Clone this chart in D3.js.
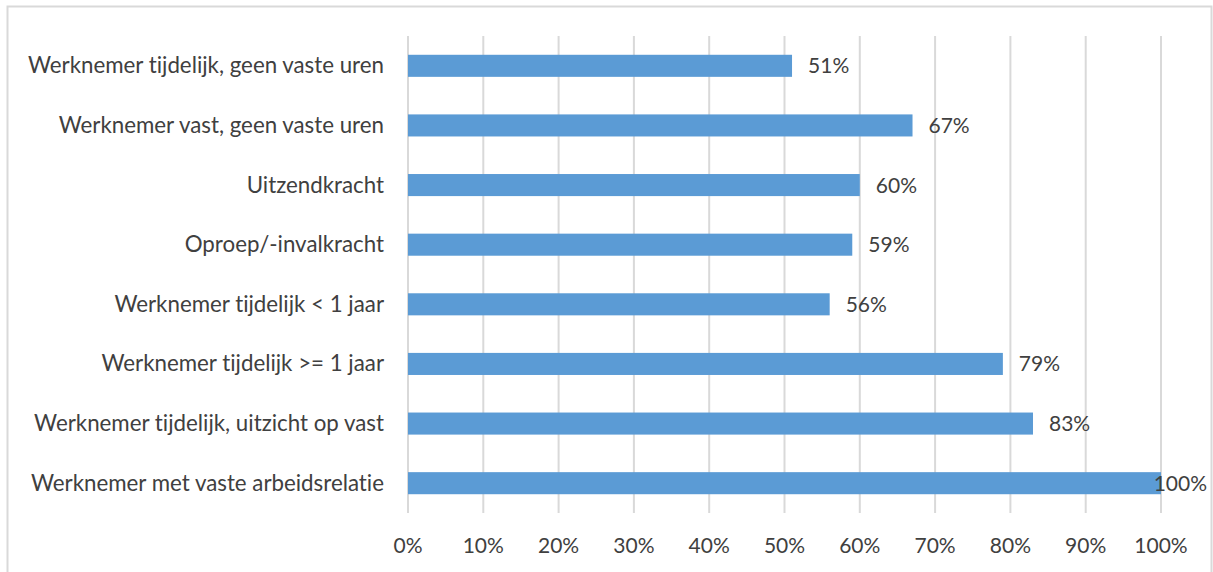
<!DOCTYPE html>
<html><head><meta charset="utf-8">
<script src="https://cdn.jsdelivr.net/npm/d3@7"></script>
<style>
body{margin:0;background:#fff;}
text{font-family:Lato, "Open Sans", sans-serif;fill:#404040;font-variant-ligatures:none;font-feature-settings:"liga" 0;}
</style></head>
<body>
<svg id="c" width="1213" height="572"></svg>
<script>
const categories = [
  "Werknemer tijdelijk, geen vaste uren",
  "Werknemer vast, geen vaste uren",
  "Uitzendkracht",
  "Oproep/-invalkracht",
  "Werknemer tijdelijk < 1 jaar",
  "Werknemer tijdelijk >= 1 jaar",
  "Werknemer tijdelijk, uitzicht op vast",
  "Werknemer met vaste arbeidsrelatie"
];
const values = [0.51, 0.67, 0.60, 0.59, 0.56, 0.79, 0.83, 1.00];
const tickValues = [0,0.1,0.2,0.3,0.4,0.5,0.6,0.7,0.8,0.9,1.0];

const svg = d3.select("#c");
const W = 1213, H = 572;
const fsCat = 22.3, fsNum = 21;
svg.append("rect").attr("x",7.5).attr("y",6.5).attr("width",W-9).attr("height",H).attr("fill","#fff").attr("stroke","#D9D9D9").attr("stroke-width",2);

const x = d3.scaleLinear().domain([0,1]).range([408,1161]);
const y = d3.scaleBand().domain(categories).range([36,513]).paddingInner(0.63).paddingOuter(0.315);

// gridlines
svg.append("g").selectAll("line").data(tickValues).join("line")
  .attr("x1",d=>x(d)).attr("x2",d=>x(d)).attr("y1",36).attr("y2",513)
  .attr("stroke","#D9D9D9").attr("stroke-width",2);

// bars
svg.append("g").selectAll("rect").data(values).join("rect")
  .attr("x",x(0)).attr("y",(d,i)=>y(categories[i]))
  .attr("width",d=>x(d)-x(0)).attr("height",y.bandwidth())
  .attr("fill","#5B9BD5");

// category labels
svg.append("g").selectAll("text").data(categories).join("text")
  .attr("x",384).attr("y",d=>y(d)+y.bandwidth()/2+7.5)
  .attr("text-anchor","end").attr("font-size",fsCat).text(d=>d);

// value labels
const fmt = d3.format(".0%");
svg.append("g").selectAll("text").data(values).join("text")
  .attr("y",(d,i)=>y(categories[i])+y.bandwidth()/2+7.5)
  .attr("font-size",fsNum).text(d=>fmt(d))
  .each(function(d){
    const w = this.getComputedTextLength();
    const xx = Math.min(x(d)+16, 1207-w);
    d3.select(this).attr("x",xx);
  });

// x axis labels
svg.append("g").selectAll("text").data(tickValues).join("text")
  .attr("x",d=>x(d)).attr("y",553).attr("text-anchor","middle")
  .attr("font-size",fsNum).text(d=>fmt(d));
</script>
</body></html>
